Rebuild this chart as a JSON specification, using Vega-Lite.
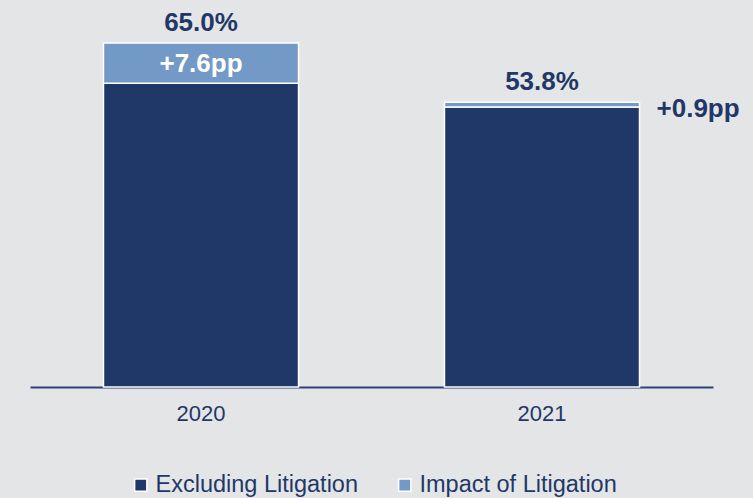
{
  "$schema": "https://vega.github.io/schema/vega-lite/v6.json",
  "width": 683,
  "height": 344,
  "autosize": {"type": "none"},
  "padding": {"left": 30, "top": 43, "right": 40, "bottom": 111},
  "background": "#e4e5e7",
  "config": {"view": {"stroke": null}, "font": "Liberation Sans"},
  "datasets": {
    "bars": [
      {"year": "2020", "series": "Excluding Litigation", "value": 57.4, "ord": 1},
      {"year": "2020", "series": "Impact of Litigation", "value": 7.6, "ord": 2},
      {"year": "2021", "series": "Excluding Litigation", "value": 52.9, "ord": 1},
      {"year": "2021", "series": "Impact of Litigation", "value": 0.9, "ord": 2}
    ],
    "labels": [
      {"year": "2020", "total": 65.0, "base": 57.4, "impact": 7.6, "totalLabel": "65.0%", "impactLabel": "+7.6pp"},
      {"year": "2021", "total": 53.8, "base": 52.9, "impact": 0.9, "totalLabel": "53.8%", "impactLabel": "+0.9pp"}
    ]
  },
  "layer": [
    {
      "data": {"name": "bars"},
      "mark": {"type": "bar", "stroke": "white", "strokeWidth": 1.5},
      "encoding": {
        "x": {
          "field": "year", "type": "nominal",
          "scale": {"paddingInner": 0.428, "paddingOuter": 0.2155},
          "axis": {
            "title": null, "labelAngle": 0, "ticks": false,
            "domainColor": "#2a4478", "domainWidth": 2,
            "labelColor": "#1f3868", "labelFontSize": 22,
            "labelFont": "Liberation Sans", "labelPadding": 16
          }
        },
        "y": {
          "field": "value", "type": "quantitative", "stack": "zero",
          "scale": {"domain": [0, 65], "nice": false},
          "axis": null
        },
        "color": {
          "field": "series", "type": "nominal",
          "scale": {"domain": ["Excluding Litigation", "Impact of Litigation"], "range": ["#1f3868", "#7399c6"]},
          "legend": {
            "title": null, "orient": "none", "direction": "horizontal",
            "legendX": 99, "legendY": 430,
            "symbolType": "square", "symbolSize": 150,
            "symbolStrokeColor": "white", "symbolStrokeWidth": 1.5,
            "labelFont": "Liberation Sans", "labelFontSize": 23.5, "labelLimit": 0,
            "labelColor": "#1f3868", "columnPadding": 35, "labelOffset": 3
          }
        },
        "order": {"field": "ord", "type": "quantitative"}
      }
    },
    {
      "data": {"name": "labels"},
      "mark": {"type": "text", "fontWeight": "bold", "fontSize": 26, "color": "#1f3868", "baseline": "alphabetic", "dy": -12},
      "encoding": {
        "x": {"field": "year", "type": "nominal"},
        "y": {"field": "total", "type": "quantitative"},
        "text": {"field": "totalLabel"}
      }
    },
    {
      "data": {"name": "labels"},
      "transform": [{"filter": "datum.year === '2020'"}, {"calculate": "datum.base + datum.impact / 2", "as": "mid"}],
      "mark": {"type": "text", "fontWeight": "bold", "fontSize": 26, "color": "white", "baseline": "alphabetic", "dy": 9},
      "encoding": {
        "x": {"field": "year", "type": "nominal"},
        "y": {"field": "mid", "type": "quantitative"},
        "text": {"field": "impactLabel"}
      }
    },
    {
      "data": {"name": "labels"},
      "transform": [{"filter": "datum.year === '2021'"}],
      "mark": {"type": "text", "fontWeight": "bold", "fontSize": 26, "color": "#1f3868", "baseline": "alphabetic", "align": "left", "dx": 17, "dy": 15},
      "encoding": {
        "x": {"field": "year", "type": "nominal", "bandPosition": 1},
        "y": {"field": "total", "type": "quantitative"},
        "text": {"field": "impactLabel"}
      }
    }
  ]
}
